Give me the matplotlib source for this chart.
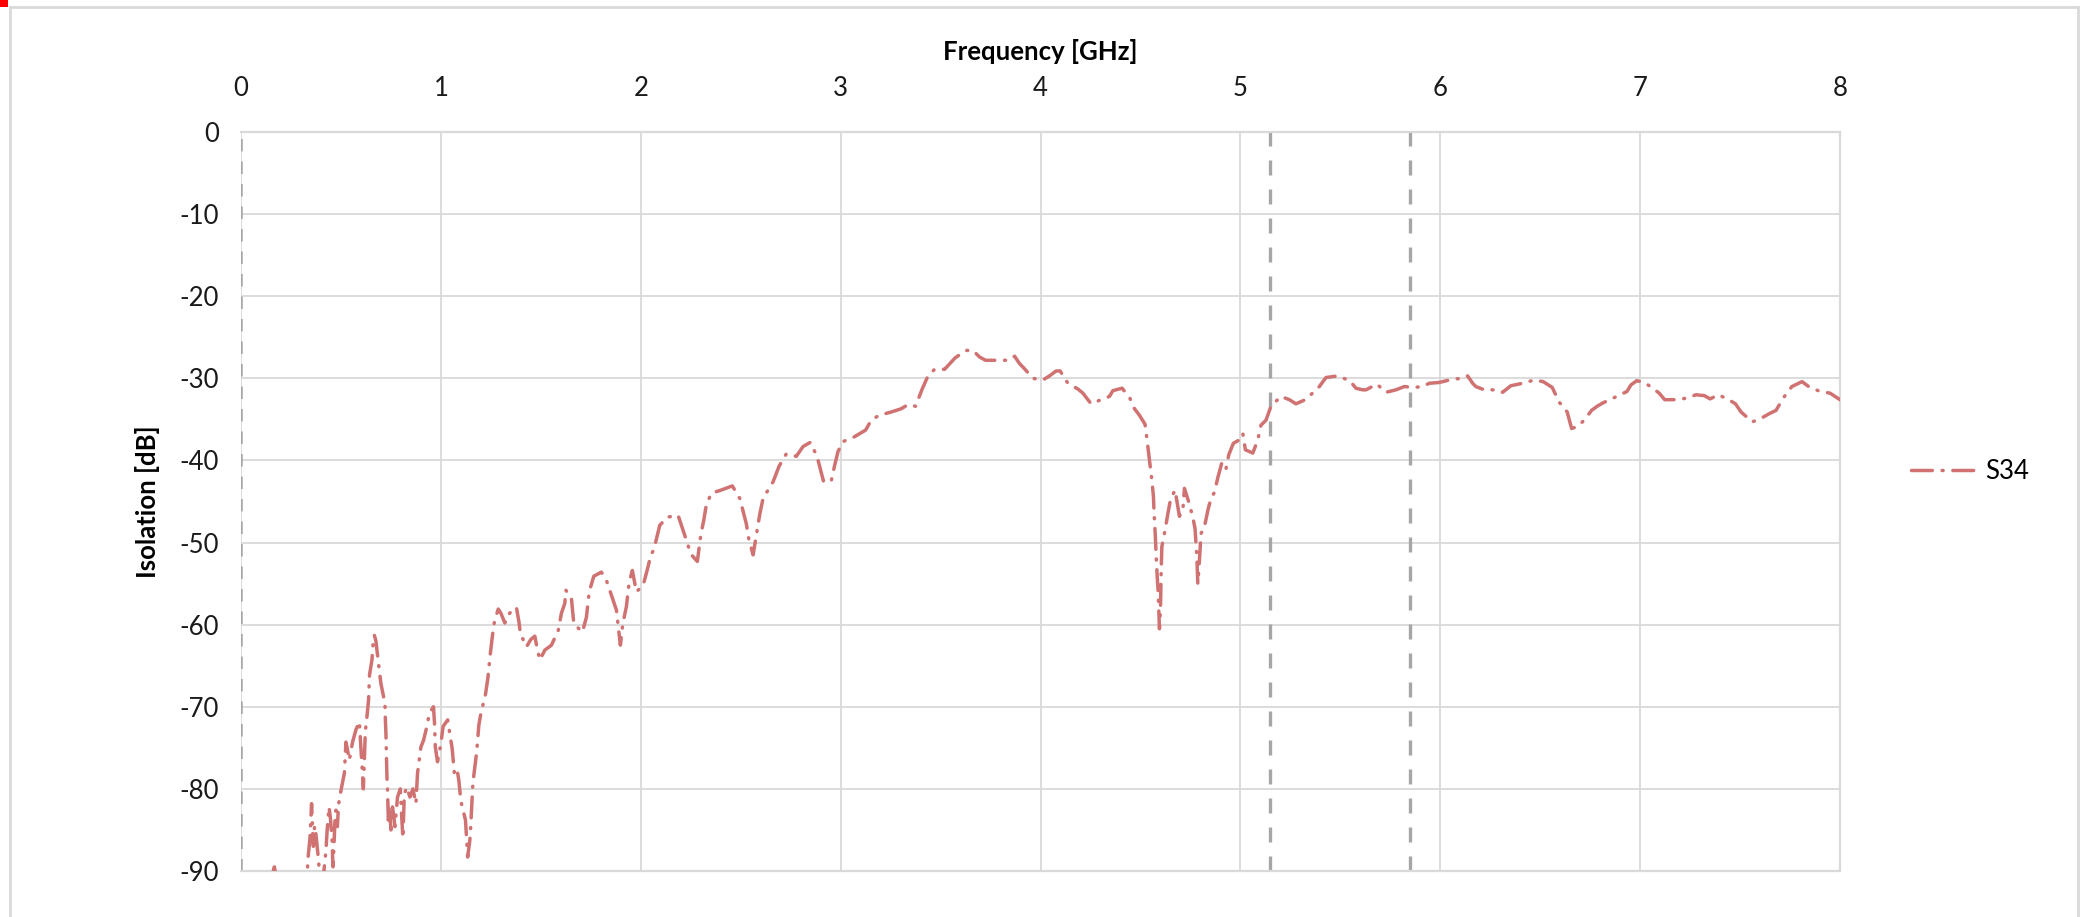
import matplotlib
matplotlib.use("Agg")
import matplotlib.pyplot as plt
from matplotlib.patches import Rectangle
from matplotlib.lines import Line2D

plt.rcParams['font.family'] = ['Lato', 'DejaVu Sans']
plt.rcParams['axes.unicode_minus'] = False

# S34 isolation trace (GHz / dB)
freq_ghz = [
    0.150, 0.167, 0.180, 0.330, 0.335, 0.345, 0.353, 0.358, 0.362, 0.368, 0.375, 0.387, 0.395,
    0.410, 0.417, 0.425, 0.430, 0.440, 0.447, 0.455, 0.460, 0.465, 0.470, 0.475, 0.482, 0.488,
    0.500, 0.517, 0.525, 0.533, 0.542, 0.558, 0.575, 0.592, 0.600, 0.608, 0.612, 0.617, 0.622,
    0.630, 0.638, 0.643, 0.655, 0.662, 0.667, 0.675, 0.680, 0.690, 0.700, 0.710, 0.720, 0.722,
    0.725, 0.728, 0.730, 0.733, 0.737, 0.742, 0.750, 0.758, 0.765, 0.770, 0.783, 0.797, 0.803,
    0.810, 0.817, 0.830, 0.845, 0.860, 0.875, 0.883, 0.900, 0.913, 0.930, 0.942, 0.963, 0.968,
    0.972, 0.983,
    1.000, 1.011, 1.034, 1.047, 1.056, 1.067, 1.080, 1.090, 1.100, 1.123, 1.134, 1.145, 1.150,
    1.157, 1.160, 1.179, 1.190, 1.200, 1.223, 1.235, 1.246, 1.257, 1.268, 1.287,
    1.300, 1.320, 1.337, 1.360, 1.378, 1.390, 1.398, 1.428, 1.450, 1.470, 1.480, 1.495, 1.520,
    1.553, 1.587, 1.603, 1.620, 1.625, 1.653, 1.665, 1.708, 1.728, 1.742, 1.765, 1.803, 1.828,
    1.853, 1.878, 1.898, 1.910, 1.928, 1.942, 1.958, 1.978,
    2.012, 2.037, 2.050, 2.065, 2.095, 2.133, 2.187, 2.228, 2.250, 2.283, 2.300, 2.315, 2.328,
    2.353, 2.403, 2.458, 2.495, 2.528, 2.540, 2.562, 2.582, 2.595, 2.612, 2.662, 2.692, 2.728,
    2.778, 2.812, 2.848, 2.882, 2.915, 2.953, 2.970, 2.987,
    3.012, 3.070, 3.125, 3.153, 3.192, 3.253, 3.303, 3.337, 3.375, 3.408, 3.437, 3.470, 3.520,
    3.573, 3.628, 3.662, 3.695, 3.725, 3.787, 3.837, 3.870, 3.895, 3.915, 3.962,
    4.012, 4.045, 4.078, 4.098, 4.137, 4.187, 4.212, 4.253, 4.303, 4.345, 4.362, 4.408, 4.445,
    4.470, 4.495, 4.523, 4.532, 4.542, 4.558, 4.565, 4.568, 4.575, 4.578, 4.583, 4.588, 4.592,
    4.595, 4.600, 4.603, 4.607, 4.623, 4.637, 4.650, 4.673, 4.695, 4.712, 4.720, 4.742, 4.762,
    4.773, 4.782, 4.787, 4.795, 4.803, 4.820, 4.837, 4.853, 4.870, 4.887, 4.908, 4.928, 4.942,
    4.965, 4.995,
    5.012, 5.025, 5.062, 5.087, 5.103, 5.128, 5.153, 5.203, 5.245, 5.278, 5.325, 5.370, 5.395,
    5.428, 5.487, 5.548, 5.578, 5.612, 5.628, 5.683, 5.728, 5.778, 5.820, 5.870, 5.912, 5.945,
    5.995,
    6.062, 6.112, 6.137, 6.162, 6.178, 6.220, 6.278, 6.312, 6.353, 6.412, 6.470, 6.515, 6.560,
    6.595, 6.635, 6.657, 6.685, 6.720, 6.757, 6.785, 6.813, 6.883, 6.934, 6.954, 6.982, 7.010,
    7.053, 7.095, 7.123, 7.180, 7.236, 7.279, 7.321, 7.350, 7.392, 7.443, 7.477, 7.505, 7.561,
    7.603, 7.646, 7.680, 7.716, 7.759, 7.810, 7.843, 7.900, 7.950, 8.000,
]
s34_db = [
    -91.0, -89.5, -91.5, -91.0, -88.5, -86.0, -81.8, -85.0, -87.0, -84.5, -85.6, -88.5, -91.0,
    -91.0, -89.5, -87.5, -85.4, -82.2, -83.5, -86.0, -89.5, -87.0, -83.8, -82.6, -84.6, -81.9,
    -80.2, -78.1, -74.3, -75.3, -76.5, -74.3, -72.8, -71.8, -75.1, -78.5, -80.0, -76.5, -73.0,
    -71.2, -69.2, -66.1, -64.3, -61.8, -61.3, -62.0, -63.1, -65.2, -67.2, -68.4, -69.6, -71.4,
    -73.3, -76.7, -78.5, -80.1, -83.8, -82.0, -85.0, -82.2, -83.5, -84.6, -81.0, -80.0, -83.0,
    -86.0, -80.6, -79.8, -81.0, -80.0, -81.8, -78.1, -74.9, -74.1, -72.4, -70.8, -70.0, -72.0,
    -74.9, -76.7,
    -74.5, -72.4, -71.6, -73.7, -75.0, -78.0, -77.5, -79.0, -81.5, -83.8, -88.3, -86.2, -84.2,
    -80.9, -79.3, -75.5, -72.2, -70.8, -68.5, -66.5, -63.8, -61.5, -59.6, -58.1,
    -58.6, -59.8, -58.8, -58.2, -57.9, -59.6, -61.1, -62.7, -61.8, -61.4, -62.7, -64.3, -63.1,
    -62.5, -60.7, -58.6, -57.4, -55.8, -56.8, -59.9, -60.9, -59.1, -56.0, -54.1, -53.6, -54.6,
    -56.4, -58.2, -62.5, -59.9, -57.8, -54.8, -53.4, -56.0,
    -55.2, -52.9, -51.5, -50.9, -47.9, -46.9, -46.7, -49.7, -51.4, -52.3, -49.1, -47.3, -45.4,
    -44.0, -43.6, -43.1, -44.6, -47.7, -49.5, -51.5, -48.5, -46.6, -44.6, -42.6, -40.7, -39.2,
    -39.5, -38.3, -37.8, -39.5, -42.6, -42.5, -40.6, -38.9,
    -37.7, -37.1, -36.3, -35.1, -34.5, -34.1, -33.7, -33.2, -33.4, -31.3, -29.7, -28.9, -28.9,
    -27.5, -26.6, -26.6, -27.4, -27.8, -27.8, -27.8, -27.3, -28.2, -28.7, -30.0,
    -30.2, -29.7, -29.1, -29.1, -30.6, -31.3, -31.8, -33.1, -32.6, -32.2, -31.5, -31.2, -32.3,
    -33.7, -34.5, -35.6, -37.3, -39.3, -42.6, -44.4, -46.3, -49.5, -51.3, -53.8, -55.8, -58.5,
    -60.5, -58.3, -54.2, -50.5, -48.5, -46.5, -44.8, -43.6, -46.8, -46.1, -43.4, -45.1, -46.9,
    -48.3, -51.7, -55.0, -52.2, -48.9, -48.1, -46.1, -44.6, -43.9, -42.1, -40.2, -41.0, -39.3,
    -37.9, -37.5,
    -36.7, -38.7, -39.1, -37.5, -35.7, -35.1, -33.4, -32.2, -32.6, -33.1, -32.6, -31.6, -31.0,
    -29.9, -29.7, -30.3, -31.2, -31.4, -31.4, -30.7, -31.7, -31.4, -31.0, -31.1, -31.0, -30.6,
    -30.5,
    -30.1, -30.0, -29.7, -30.6, -31.0, -31.4, -31.4, -31.7, -30.9, -30.6, -30.2, -30.4, -31.1,
    -32.9, -34.1, -36.1, -35.9, -35.1, -33.9, -33.4, -33.0, -32.2, -31.6, -30.8, -30.3, -30.4,
    -31.0, -31.8, -32.6, -32.6, -32.4, -32.0, -32.1, -32.5, -32.0, -32.6, -33.1, -34.1, -35.3,
    -34.9, -34.3, -33.9, -32.4, -31.0, -30.4, -31.0, -31.6, -31.8, -32.6,
]
assert len(freq_ghz) == len(s34_db)

band_edges_ghz = [5.15, 5.85]
x_ticks = [0, 1, 2, 3, 4, 5, 6, 7, 8]
y_ticks = [0, -10, -20, -30, -40, -50, -60, -70, -80, -90]

line_color = '#D07272'
grid_color = '#D9D9D9'

fig = plt.figure(figsize=(20.85, 9.17), dpi=100)
ax = fig.add_axes([0.1156, 0.0502, 0.7669, 0.8058])

# outer chart border and the little red corner mark
for xs, ys in [([0.005, 0.005], [0.0, 0.992]), ([0.005, 0.9965], [0.992, 0.992]),
               ([0.9965, 0.9965], [0.0, 0.992])]:
    fig.add_artist(Line2D(xs, ys, transform=fig.transFigure, color='#D9D9D9', lw=2))
fig.add_artist(Rectangle((0, 0.992), 0.004, 0.008, transform=fig.transFigure,
                         color='#FF0000', lw=0))

ax.plot(freq_ghz, s34_db, color=line_color, lw=2.5,
        linestyle=(0, (6.0, 2.8, 0.3, 2.8)), dash_capstyle='round',
        solid_capstyle='round', label='S34', zorder=3)

# band markers
ax.axvline(0, color='#A6A6A6', lw=1.8, linestyle=(0, (5, 4)), zorder=2)
for edge in band_edges_ghz:
    ax.axvline(edge, color='#A6A6A6', lw=2.4, linestyle=(0, (4.5, 4.2)), zorder=2)

ax.set_xlim(0, 8)
ax.set_ylim(-90, 0)
ax.set_xticks(x_ticks)
ax.set_yticks(y_ticks)
ax.grid(True, color=grid_color, lw=1.3)
ax.set_axisbelow(True)
for side, spine in ax.spines.items():
    spine.set_color(grid_color)
    spine.set_linewidth(1.6)
ax.spines['left'].set_visible(False)

ax.xaxis.tick_top()
ax.xaxis.set_label_position('top')
ax.tick_params(axis='x', length=0, pad=22, labelsize=18.5, colors='#1A1A1A')
ax.tick_params(axis='y', length=0, pad=16, labelsize=18.5, colors='#1A1A1A')
ax.set_xlabel('Frequency [GHz]', fontsize=18.5, fontweight='bold', labelpad=12)
ax.set_ylabel('Isolation [dB]', fontsize=18.5, fontweight='bold', labelpad=14)

ax.legend(loc='center left', bbox_to_anchor=(1.03, 0.54), frameon=False,
          fontsize=18.5, handlelength=2.6, handletextpad=0.3)

fig.savefig('out.png', dpi=100, facecolor='white')
